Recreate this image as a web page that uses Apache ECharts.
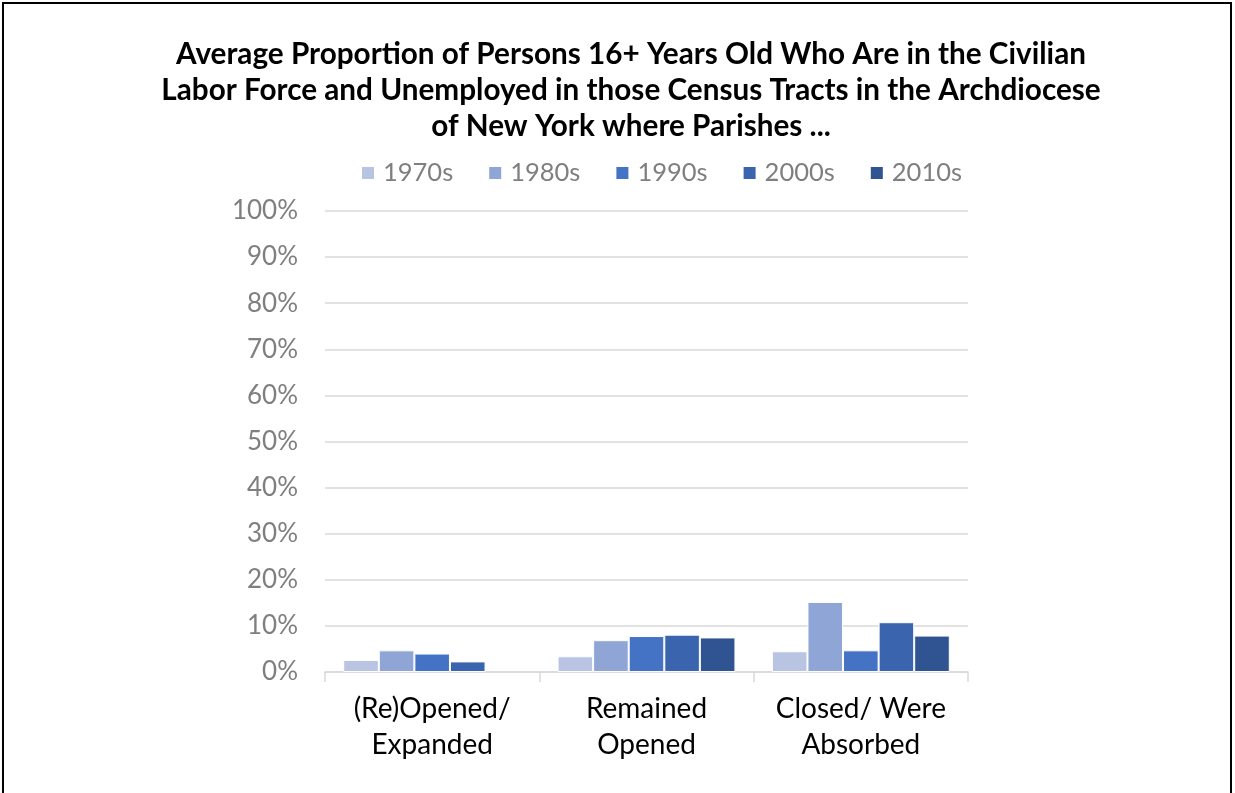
<!DOCTYPE html>
<html><head><meta charset="utf-8">
<script src="https://cdn.jsdelivr.net/npm/echarts@6/dist/echarts.min.js"></script>
<style>html,body{margin:0;padding:0;background:#fff;}#c{width:1235px;height:793px;}</style>
</head><body><div id="c"></div>
<script>
const categories = ['(Re)Opened/\nExpanded', 'Remained\nOpened', 'Closed/ Were\nAbsorbed'];
const seriesNames = ['1970s', '1980s', '1990s', '2000s', '2010s'];
const s1970 = [2.6, 3.4, 4.5];
const s1980 = [4.7, 6.9, 15.2];
const s1990 = [4.0, 7.8, 4.7];
const s2000 = [2.3, 8.1, 10.8];
const s2010 = [null, 7.5, 7.9];
const seriesValues = [s1970, s1980, s1990, s2000, s2010];
const colors = ['#B9C4E2', '#8FA5D5', '#4472C4', '#3A64AD', '#305391'];
const titleText = 'Average Proportion of Persons 16+ Years Old Who Are in the Civilian\nLabor Force and Unemployed in those Census Tracts in the Archdiocese\nof New York where Parishes ...';

const chart = echarts.init(document.getElementById('c'), null, {renderer: 'canvas'});
chart.setOption({
  animation: false,
  color: colors,
  title: {
    text: titleText, left: 626, top: 31,
    textAlign: 'center',
    textStyle: {fontFamily: 'Lato', fontWeight: 'bold', fontSize: 29.7, lineHeight: 36, color: '#000'}
  },
  legend: {
    data: seriesNames, top: 160, left: 360, padding: 0,
    itemWidth: 14, itemHeight: 14, itemGap: 34, icon: 'rect',
    textStyle: {fontFamily: 'Lato', fontSize: 25.5, color: '#7F7F7F', padding: [0,0,0,3]}
  },
  grid: {left: 325, right: 267, top: 211, bottom: 121, containLabel: false},
  xAxis: {
    type: 'category', data: categories,
    axisLine: {lineStyle: {color: '#D9D9D9', width: 1.5}},
    axisTick: {show: true, length: 10, lineStyle: {color: '#D9D9D9', width: 1.5}},
    axisLabel: {interval: 0, fontFamily: 'Lato', fontSize: 28, color: '#000', lineHeight: 36, margin: 19}
  },
  yAxis: {
    type: 'value', min: 0, max: 100, interval: 10,
    axisLabel: {formatter: '{value}%', fontFamily: 'Lato', fontSize: 26, color: '#7F7F7F', margin: 27},
    splitLine: {lineStyle: {color: '#D9D9D9', width: 1.5}},
    axisLine: {show: false}, axisTick: {show: false}
  },
  series: seriesNames.map((n, i) => ({
    name: n, type: 'bar', data: seriesValues[i],
    barGap: '0%', barCategoryGap: '17%',
    itemStyle: {borderColor: '#fff', borderWidth: 1}
  })),
  graphic: [{
    type: 'rect', shape: {x: 3, y: 3, width: 1228, height: 820},
    style: {fill: 'none', stroke: '#000', lineWidth: 2}, silent: true, z: 100
  }]
});
</script></body></html>
